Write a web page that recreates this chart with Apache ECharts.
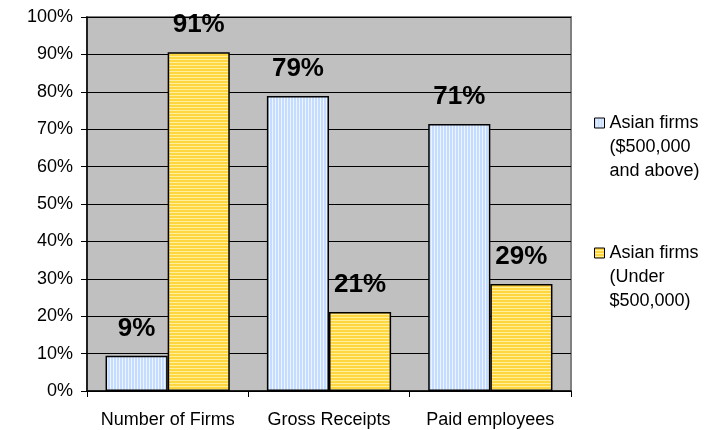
<!DOCTYPE html>
<html>
<head>
<meta charset="utf-8">
<script src="https://cdn.jsdelivr.net/npm/echarts@6/dist/echarts.min.js"></script>
<style>
html,body{margin:0;padding:0;background:#fff;}
#chart{width:725px;height:430px;}
</style>
</head>
<body>
<div id="chart"></div>
<script>
var categories = ['Number of Firms', 'Gross Receipts', 'Paid employees'];
var seriesNames = ['Asian firms\n($500,000\nand above)', 'Asian firms\n(Under\n$500,000)'];
var above500k = [9.4, 78.9, 71.4];
var under500k = [90.6, 21.1, 28.6];
var yTicks = [0, 10, 20, 30, 40, 50, 60, 70, 80, 90, 100];

function stripe(vertical, c1, c2) {
  var cv = document.createElement('canvas');
  cv.width = 3; cv.height = 3;
  var ctx = cv.getContext('2d');
  ctx.fillStyle = c1; ctx.fillRect(0, 0, 3, 3);
  ctx.fillStyle = c2;
  if (vertical) ctx.fillRect(2, 0, 1, 3); else ctx.fillRect(0, 2, 3, 1);
  return { image: cv, repeat: 'repeat' };
}
var bluePat = stripe(true, '#c4dcff', '#eef5ff');
var yellowPat = stripe(false, '#ffd640', '#fff09a');

var font = '"Liberation Sans", Arial, sans-serif';
var chart = echarts.init(document.getElementById('chart'), null, {renderer: 'canvas'});
var labelCfg = {
  show: true, position: 'top', distance: 14,
  fontFamily: font, fontWeight: 'bold', fontSize: 26, color: '#000',
  formatter: function (p) { return Math.round(p.value) + '%'; }
};
chart.setOption({
  animation: false,
  grid: {
    left: 87, top: 17, width: 484, height: 374,
    show: true, backgroundColor: '#c0c0c0', borderColor: '#808080', borderWidth: 2
  },
  legend: {
    orient: 'vertical', left: 589, top: 58,
    icon: 'rect',
    itemWidth: 10, itemHeight: 10, itemGap: 10,
    data: seriesNames,
    formatter: function (n) { return ' \n \n' + n; },
    textStyle: { fontFamily: font, fontSize: 18, color: '#000', lineHeight: 24 },
    itemStyle: { borderColor: '#000', borderWidth: 1 }
  },
  xAxis: {
    type: 'category', data: categories,
    axisLine: { lineStyle: { color: '#000', width: 1.5 } },
    axisTick: { show: true, length: 6, lineStyle: { color: '#000' } },
    axisLabel: { fontFamily: font, fontSize: 18, color: '#000', margin: 20, interval: 0, hideOverlap: false }
  },
  yAxis: {
    type: 'value', min: 0, max: 100, interval: 10,
    axisLine: { show: true, lineStyle: { color: '#000', width: 1.5 } },
    axisTick: { show: true, length: 6, lineStyle: { color: '#000' } },
    splitLine: { lineStyle: { color: '#000', width: 1 } },
    axisLabel: {
      fontFamily: font, fontSize: 18, color: '#000', margin: 14,
      formatter: function (v) { return yTicks.indexOf(v) >= 0 ? v + '%' : ''; }
    }
  },
  series: [
    {
      name: seriesNames[0], type: 'bar', data: above500k,
      barGap: '0%', barCategoryGap: '23%',
      itemStyle: { color: bluePat, borderColor: '#000', borderWidth: 1.5 },
      label: labelCfg
    },
    {
      name: seriesNames[1], type: 'bar', data: under500k,
      barGap: '0%', barCategoryGap: '23%',
      itemStyle: { color: yellowPat, borderColor: '#000', borderWidth: 1.5 },
      label: labelCfg
    }
  ]
});
</script>
</body>
</html>
